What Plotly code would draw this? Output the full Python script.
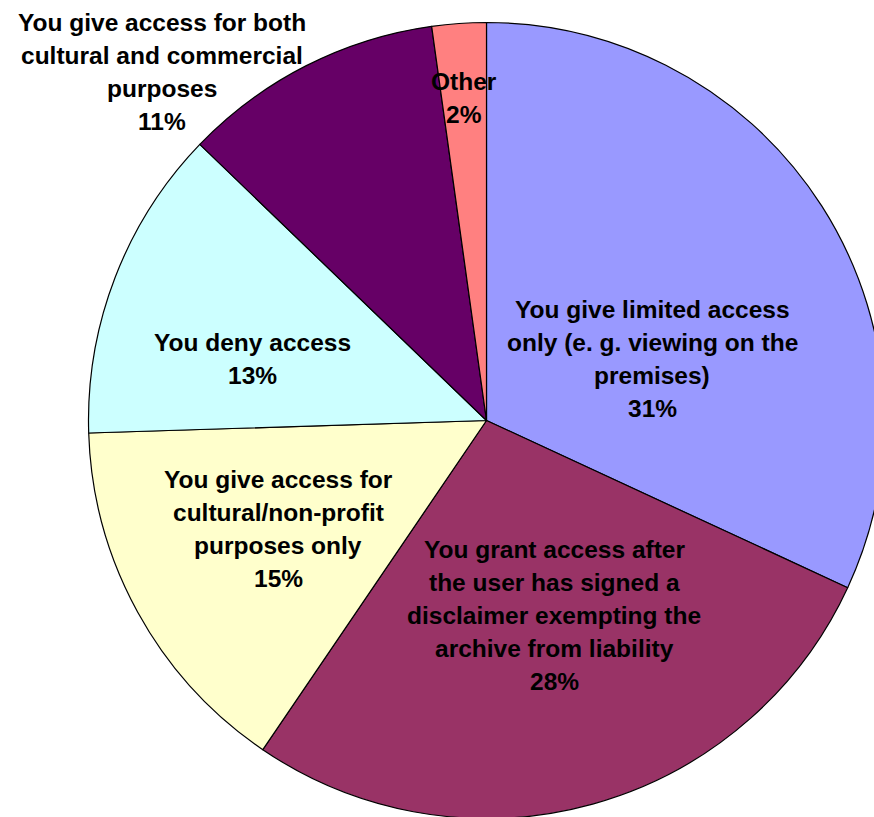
import plotly.graph_objects as go

# ---- data ----
categories = [
    "You give limited access only (e. g. viewing on the premises)",
    "You grant access after the user has signed a disclaimer exempting the archive from liability",
    "You give access for cultural/non-profit purposes only",
    "You deny access",
    "You give access for both cultural and commercial purposes",
    "Other",
]
values = [31.9, 27.6, 15.0, 12.7, 10.6, 2.2]
percent_labels = ["31%", "28%", "15%", "13%", "11%", "2%"]
label_lines = [
    ["You give limited access", "only (e. g. viewing on the", "premises)"],
    ["You grant access after", "the user has signed a", "disclaimer exempting the", "archive from liability"],
    ["You give access for", "cultural/non-profit", "purposes only"],
    ["You deny access"],
    ["You give access for both", "cultural and commercial", "purposes"],
    ["Other"],
]
colors = ["#9999FF", "#993366", "#FFFFCC", "#CCFFFF", "#660066", "#FF8080"]

# ---- layout (pixels) ----
W, H = 900, 830
cx, cy, R = 486.5, 420.5, 398
label_pos = [  # (center x, cap-center y of first line)
    (652, 308),
    (554, 548),
    (278, 478),
    (252, 341),
    (162, 22),
    (464, 80),
]
LINE = 33
FS = 24.5

fig = go.Figure(go.Pie(
    labels=categories,
    values=values,
    sort=False,
    direction="clockwise",
    rotation=0,
    marker=dict(colors=colors, line=dict(color="black", width=1.2)),
    textinfo="none",
    hoverinfo="label+percent",
    showlegend=False,
    domain=dict(x=[(cx - R) / W, (cx + R) / W],
                y=[(H - cy - R) / H, (H - cy + R) / H]),
))

annotations = []
for (px, py), lines, pct in zip(label_pos, label_lines, percent_labels):
    for i, t in enumerate(lines + [pct]):
        annotations.append(dict(
            x=px / W, y=1 - (py + i * LINE + 1) / H,
            xref="paper", yref="paper",
            text="<b>" + t + "</b>", showarrow=False,
            xanchor="center", yanchor="middle",
            font=dict(family="Liberation Sans, Arial, sans-serif", size=FS, color="black"),
        ))

fig.update_layout(
    width=W, height=H,
    margin=dict(l=0, r=0, t=0, b=0),
    paper_bgcolor="white", plot_bgcolor="white",
    annotations=annotations,
)

fig.write_html(
    "out.html",
    config={"displayModeBar": False},
    post_script="document.body.style.margin='0';document.body.style.overflow='hidden';",
)
